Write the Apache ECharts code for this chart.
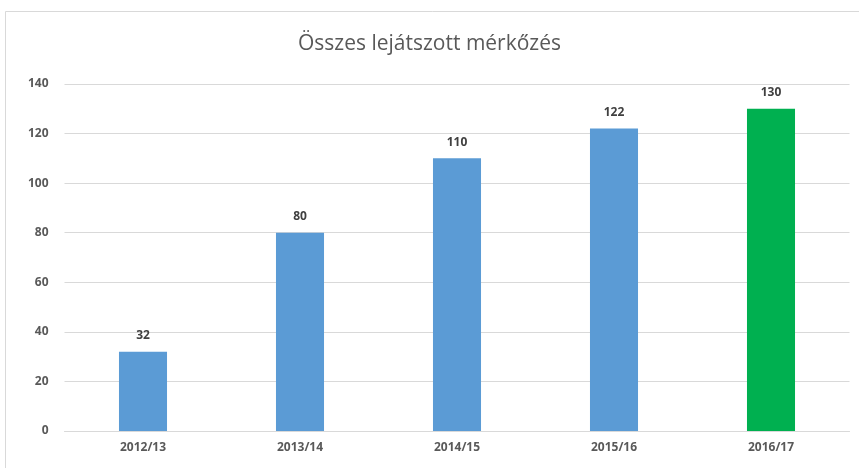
<!DOCTYPE html>
<html>
<head>
<meta charset="utf-8">
<script src="https://cdn.jsdelivr.net/npm/echarts@6/dist/echarts.min.js"></script>
<style>html,body{margin:0;padding:0;background:#fff}#c{width:859px;height:468px}</style>
</head>
<body>
<div id="c"></div>
<script>
const titleText = 'Összes lejátszott mérkőzés';
const categories = ['2012/13', '2013/14', '2014/15', '2015/16', '2016/17'];
const values = [32, 80, 110, 122, 130];
const barColors = ['#5b9bd5', '#5b9bd5', '#5b9bd5', '#5b9bd5', '#00b050'];
const yTicks = { min: 0, max: 140, interval: 20 };

const chart = echarts.init(document.getElementById('c'), null, { renderer: 'canvas' });
chart.setOption({
  animation: false,
  backgroundColor: '#fff',
  graphic: [{
    type: 'rect', shape: { x: 5.5, y: 11.5, width: 860, height: 470 },
    style: { fill: 'none', stroke: '#d9d9d9', lineWidth: 1 }, silent: true
  }],
  title: {
    text: titleText, left: 'center', top: 29,
    textStyle: { fontFamily: 'Open Sans', fontSize: 21, fontWeight: 'normal', color: '#595959' }
  },
  grid: { left: 64.5, right: 9.5, top: 84, bottom: 37 },
  xAxis: {
    type: 'category', data: categories,
    axisLine: { lineStyle: { color: '#d9d9d9' } },
    axisTick: { show: false },
    axisLabel: { color: '#595959', fontFamily: 'Open Sans', fontSize: 12, fontWeight: 'bold', margin: 11 }
  },
  yAxis: {
    type: 'value', min: yTicks.min, max: yTicks.max, interval: yTicks.interval,
    axisLine: { show: false }, axisTick: { show: false },
    splitLine: { lineStyle: { color: '#d9d9d9' } },
    axisLabel: { color: '#595959', fontFamily: 'Open Sans', fontSize: 12, fontWeight: 'bold', margin: 16 }
  },
  series: [{
    type: 'bar', barWidth: '30.6%',
    data: values.map((v, i) => ({ value: v, itemStyle: { color: barColors[i] } })),
    label: { show: true, position: 'top', distance: 10, color: '#404040', fontFamily: 'Open Sans', fontSize: 12, fontWeight: 'bold' }
  }]
});
</script>
</body>
</html>
